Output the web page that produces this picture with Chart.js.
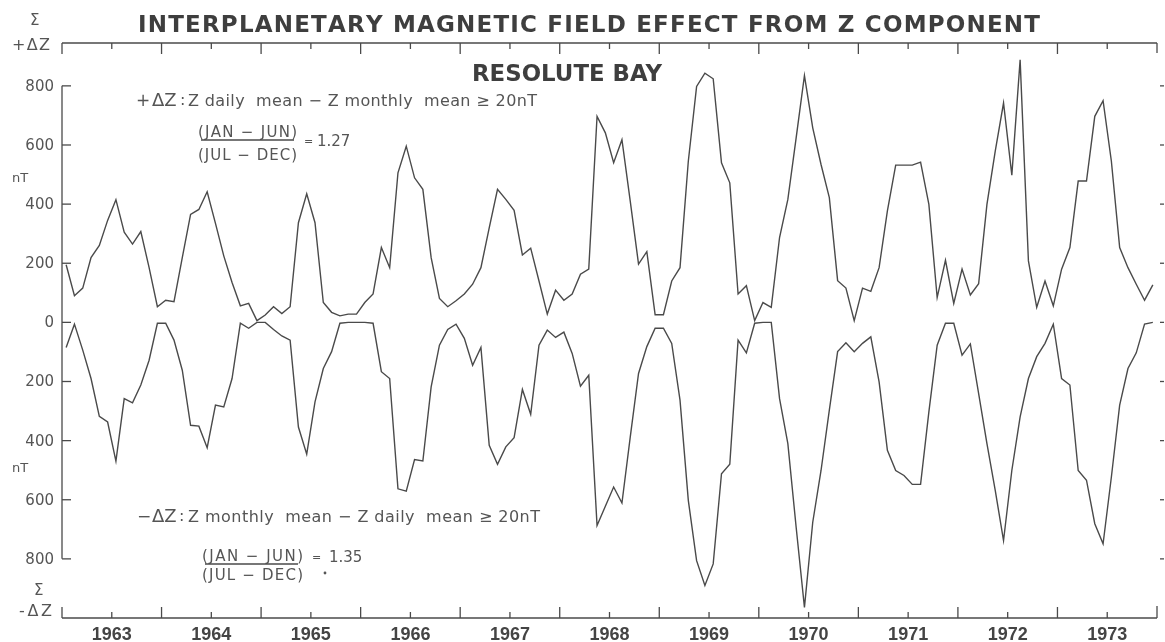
<!DOCTYPE html>
<html>
<head>
<meta charset="utf-8">
<script src="https://cdn.jsdelivr.net/npm/chart.js@4.4.0/dist/chart.umd.min.js"></script>
<style>
  html, body { margin: 0; padding: 0; background: #fff; }
  #wrap { width: 1165px; height: 642px; }
</style>
</head>
<body>
<div id="wrap"><canvas id="chart" width="1165" height="642"></canvas></div>
<script>
// monthly sums, Jan 1963 .. Dec 1973 (nT)
const firstYear = 1963;
const years = ['1963', '1964', '1965', '1966', '1967', '1968', '1969', '1970', '1971', '1972', '1973'];
const yTicks = [800, 600, 400, 200, 0, -200, -400, -600, -800];

const plusDZ = [
  195, 90, 116, 219, 260, 345, 415, 305, 265, 307, 185, 53,
  75, 70, 219, 365, 382, 442, 335, 225, 135, 56, 64, 6,
  25, 53, 30, 53, 337, 435, 337, 67, 34, 22, 28, 28,
  67, 96, 253, 185, 506, 596, 489, 450, 219, 81, 53, 73,
  96, 129, 185, 320, 450, 416, 379, 228, 251, 140, 28, 109,
  75, 96, 163, 180, 697, 641, 540, 618, 410, 197, 239, 26,
  26, 140, 185, 545, 798, 843, 824, 540, 472, 96, 124, 6,
  67, 51, 287, 416, 624, 835, 658, 534, 422, 141, 116, 6,
  116, 105, 185, 377, 532, 532, 532, 542, 399, 84, 210, 64,
  180, 93, 131, 399, 579, 742, 498, 888, 208, 51, 140, 56,
  180, 253, 478, 478, 697, 750, 545, 253, 185, 129, 75, 127
];

const minusDZ = [
  85, 6, 94, 190, 318, 337, 469, 258, 272, 212, 128, 3,
  3, 60, 162, 348, 351, 424, 280, 286, 190, 3, 20, 0,
  0, 24, 46, 60, 354, 446, 269, 156, 99, 3, 0, 0,
  0, 3, 167, 190, 563, 571, 464, 469, 218, 77, 24, 6,
  54, 145, 85, 416, 480, 421, 390, 227, 311, 77, 26, 51,
  33, 105, 216, 179, 687, 622, 557, 611, 388, 173, 82, 20,
  20, 71, 263, 602, 806, 890, 817, 512, 480, 60, 103, 3,
  0, 0, 258, 410, 693, 964, 676, 501, 297, 99, 69, 99,
  71, 49, 201, 433, 501, 518, 548, 548, 303, 77, 3, 3,
  111, 73, 241, 410, 568, 738, 501, 320, 190, 116, 71, 6,
  190, 212, 501, 534, 681, 749, 523, 280, 156, 103, 6, 0
];

const INK = '#4a4a4a';
const TEXT = '#555';

const monthX = i => firstYear + (i + 0.5) / 12;

// draw text stretched to a given width, letter by letter (squeezed if too wide)
function spaced(ctx, text, x, y, width) {
  const chars = [...text];
  const ws = chars.map(c => ctx.measureText(c).width);
  const total = ws.reduce((s, w) => s + w, 0);
  if (total >= width || chars.length < 2) { ctx.fillText(text, x, y, width); return; }
  const gap = (width - total) / (chars.length - 1);
  let cx = x;
  chars.forEach((c, i) => { ctx.fillText(c, cx, y); cx += ws[i] + gap; });
}

const framePlugin = {
  id: 'frame',
  afterDraw(chart) {
    const { ctx, chartArea: a, scales: { x, y } } = chart;
    const seg = (x1, y1, x2, y2) => { ctx.beginPath(); ctx.moveTo(x1, y1); ctx.lineTo(x2, y2); ctx.stroke(); };
    ctx.save();
    ctx.strokeStyle = INK;
    ctx.lineWidth = 1.3;

    // top / bottom rules with corner brackets
    seg(a.left, a.top, a.right, a.top);
    seg(a.left, a.bottom, a.right, a.bottom);
    seg(a.left, a.top, a.left, a.top + 11);
    seg(a.right, a.top, a.right, a.top + 10);
    seg(a.left, a.bottom - 11, a.left, a.bottom);
    seg(a.right, a.bottom - 12, a.right, a.bottom);

    // left value axis, 800 .. 800
    seg(a.left, y.getPixelForValue(800), a.left, y.getPixelForValue(-800));
    ctx.fillStyle = TEXT;
    ctx.font = '15px "DejaVu Sans"';
    ctx.textAlign = 'right';
    ctx.textBaseline = 'middle';
    for (const v of yTicks) {
      const py = y.getPixelForValue(v);
      seg(a.left, py, a.left + 9, py);
      seg(a.right + 3, py, a.right + 7, py);
      ctx.fillText(String(Math.abs(v)), a.left - 8, py + 1);
    }

    // time ticks: long at year boundaries, short at mid-year
    for (let i = 0; i <= years.length; i++) {
      const px = x.getPixelForValue(firstYear + i);
      if (i > 0 && i < years.length) {
        seg(px, a.top, px, a.top + 11);
        seg(px, a.bottom, px, a.bottom - 11);
      }
      if (i < years.length) {
        const pm = x.getPixelForValue(firstYear + i + 0.5);
        seg(pm, a.top, pm, a.top + 6);
        seg(pm, a.bottom, pm, a.bottom - 6);
      }
    }
    ctx.font = 'bold 18px "Liberation Sans"';
    ctx.fillStyle = '#444';
    ctx.textAlign = 'center';
    ctx.textBaseline = 'alphabetic';
    years.forEach((lbl, i) => ctx.fillText(lbl, x.getPixelForValue(firstYear + i + 0.5), 640));

    // axis captions
    ctx.fillStyle = TEXT;
    ctx.textAlign = 'left';
    ctx.font = '13px "DejaVu Sans"';
    ctx.fillText('nT', 12, 182);
    ctx.fillText('nT', 12, 472);
    ctx.font = '15px "DejaVu Sans"';
    ctx.fillText('\u03A3', 30, 25);
    ctx.fillText('\u03A3', 34, 595);
    ctx.font = '16px "DejaVu Sans"';
    spaced(ctx, '+\u0394Z', 12, 50, 38);
    spaced(ctx, '-\u0394Z', 19, 616, 33);

    // titles
    ctx.fillStyle = '#3e3e3e';
    ctx.font = 'bold 23px "DejaVu Sans"';
    spaced(ctx, 'INTERPLANETARY MAGNETIC FIELD EFFECT FROM Z COMPONENT', 138, 32, 902);
    spaced(ctx, 'RESOLUTE BAY', 472, 81, 190);

    // series notes
    ctx.fillStyle = TEXT;
    ctx.font = '17px "DejaVu Sans"';
    ctx.fillText('+', 136, 106);
    ctx.fillText('\u2212', 137, 522);
    ctx.font = '18px "DejaVu Sans"';
    ctx.fillText('\u0394Z', 152, 106);
    ctx.fillText('\u0394Z', 152, 522);
    ctx.font = '16px "DejaVu Sans"';
    ctx.fillText(':', 180, 105);
    ctx.fillText(':', 179, 521);
    spaced(ctx, 'Z daily  mean \u2212 Z monthly  mean \u2265 20nT', 188, 106, 349);
    spaced(ctx, 'Z monthly  mean \u2212 Z daily  mean \u2265 20nT', 188, 522, 352);

    ctx.font = '15px "DejaVu Sans"';
    spaced(ctx, '(JAN \u2212 JUN)', 198, 137, 99);
    spaced(ctx, '(JUL \u2212 DEC)', 198, 160, 99);
    seg(201, 140, 294, 140);
    ctx.fillText('1.27', 317, 146);
    spaced(ctx, '(JAN \u2212 JUN)', 202, 561, 101);
    spaced(ctx, '(JUL \u2212 DEC)', 202, 580, 101);
    seg(205, 564, 298, 564);
    ctx.fillText('1.35', 329, 562);
    ctx.font = '11px "DejaVu Sans"';
    ctx.fillText('=', 304, 145);
    ctx.fillText('=', 312, 561);
    ctx.beginPath();
    ctx.arc(325, 573, 1.4, 0, Math.PI * 2);
    ctx.fill();
    ctx.restore();
  }
};

const lineStyle = { borderColor: INK, borderWidth: 1.4, pointRadius: 0, tension: 0, fill: false };

new Chart(document.getElementById('chart'), {
  type: 'line',
  data: {
    datasets: [
      { label: '+\u0394Z', data: plusDZ.map((v, i) => ({ x: monthX(i), y: v })), ...lineStyle },
      { label: '-\u0394Z', data: minusDZ.map((v, i) => ({ x: monthX(i), y: -v })), ...lineStyle }
    ]
  },
  options: {
    responsive: false,
    animation: false,
    layout: { padding: { left: 62, right: 8, top: 43, bottom: 24 } },
    scales: {
      x: { type: 'linear', min: firstYear, max: firstYear + years.length, display: false },
      y: { min: -1000, max: 945, display: false }
    },
    plugins: { legend: { display: false }, tooltip: { enabled: false } }
  },
  plugins: [framePlugin]
});
</script>
</body>
</html>
